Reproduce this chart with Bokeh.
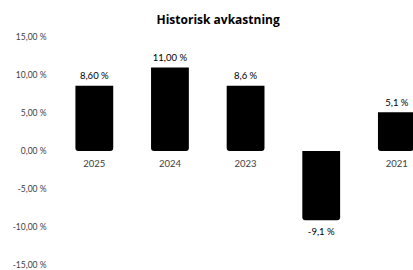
import numpy as np
from bokeh.plotting import figure
from bokeh.models import Range1d, FixedTicker, ColumnDataSource
from bokeh.core.properties import value
from bokeh.embed import file_html
from bokeh.resources import INLINE

years = ["2025", "2024", "2023", "2022", "2021"]
returns = [8.6, 11.0, 8.6, -9.1, 5.1]
value_labels = ["8,60 %", "11,00 %", "8,6 %", "-9,1 %", "5,1 %"]
y_ticks = [-15, -10, -5, 0, 5, 10, 15]
title_text = "Historisk avkastning"

FONT = "Lato"

x = np.arange(len(years)) + 0.5
vals = np.array(returns)

src = ColumnDataSource(dict(
    x=x, top=vals, year=years, lab=value_labels,
    yoff=np.where(vals >= 0, -10, 11),
))

p = figure(width=413, height=270, output_backend="svg", toolbar_location=None,
           x_range=Range1d(0, 4.72), y_range=Range1d(-15.2, 15.2),
           x_axis_location=None, title=title_text,
           min_border_left=56, min_border_right=0, min_border_top=35, min_border_bottom=4)
p.outline_line_color = None
p.grid.visible = False
p.background_fill_color = "white"
p.border_fill_color = "white"

p.title.align = "left"
p.title.offset = 100
p.title.standoff = 16
p.title.text_font = "Open Sans"
p.title.text_font_size = "12px"
p.title.text_font_style = "bold"
p.title.text_color = "#000000"

ax = p.yaxis[0]
ax.ticker = FixedTicker(ticks=y_ticks)
ax.major_label_overrides = {t: ("{:.2f}".format(t).replace(".", ",") + " %") for t in y_ticks}
ax.axis_line_color = None
ax.major_tick_line_color = None
ax.minor_tick_line_color = None
ax.major_label_standoff = 4
ax.major_label_text_font = FONT
ax.major_label_text_font_size = "8.5px"
ax.major_label_text_color = "#404040"

# category labels at the zero line (drawn first so bars cover them)
p.text(x="x", y=0, text="year", source=src, y_offset=12,
       text_align="center", text_baseline="middle",
       text_font=value(FONT), text_font_size="9.5px", text_color="#404040")

p.vbar(x="x", top="top", bottom=0, width=0.5, source=src,
       fill_color="#000000", line_color=None, border_radius=(0, 0, 3, 3))

p.text(x="x", y="top", text="lab", source=src, y_offset="yoff",
       text_align="center", text_baseline="middle",
       text_font=value(FONT), text_font_size="9.5px", text_color="#000000")

open("out.html", "w").write(file_html(p, INLINE))
